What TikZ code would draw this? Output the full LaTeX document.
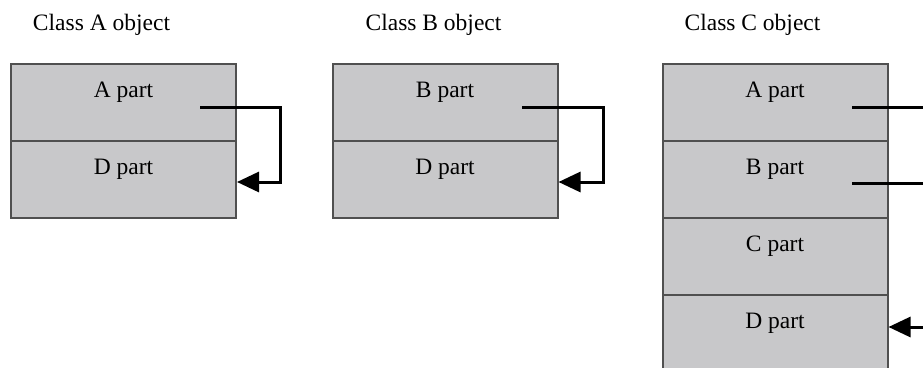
\documentclass[tikz,border=0pt]{standalone}
\usepackage{fontspec}
\setmainfont{Liberation Serif}
\usetikzlibrary{arrows.meta}
\definecolor{partfill}{RGB}{200,200,202}
\definecolor{partline}{RGB}{80,80,80}
\begin{document}
\begin{tikzpicture}[x=1pt,y=-1pt,
  part/.style={draw=partline,line width=2pt,fill=partfill,rectangle,
    minimum width=225pt,minimum height=77pt,inner sep=0pt,
    text height=16pt,text depth=26pt,font=\fontsize{23.5}{25}\selectfont},
  title/.style={font=\fontsize{23.5}{25}\selectfont,inner sep=0pt},
  conn/.style={line width=3pt,-{Triangle[length=22pt,width=20pt]}},
  plain/.style={line width=3pt}]
\clip (0,0) rectangle (923,367);
\useasboundingbox (0,0) rectangle (923,367);
\fill[white] (0,0) rectangle (923,367);
% titles
\node[title] (ta) at (101.5,25) {Class A object};
\node[title] (tb) at (433.5,25) {Class B object};
\node[title] (tc) at (752.5,25) {Class C object};
% Class A object
\node[part] (aA) at (123.5,102.5) {A part};
\node[part] (aD) at (123.5,179.5) {D part};
% Class B object
\node[part] (bB) at (445,102.5) {B part};
\node[part] (bD) at (445,179.5) {D part};
% Class C object
\node[part] (cA) at (775,102.5) {A part};
\node[part] (cB) at (775,179.5) {B part};
\node[part] (cC) at (775,256.5) {C part};
\node[part] (cD) at (775,333.5) {D part};
% connectors
\coordinate (sa) at (200,107);
\coordinate (sb) at (522,107);
\draw[conn] (sa) -- ++(80,0) |- ([yshift=-2.5pt]aD.east);
\draw[conn] (sb) -- ++(81,0) |- ([yshift=-2.5pt]bD.east);
\coordinate (ca) at (852,107);
\coordinate (ca2) at (925,107);
\coordinate (cb) at (852,183);
\coordinate (cb2) at (925,183);
\coordinate (cd) at (925,327);
\draw[plain] (ca) -- (ca2);
\draw[plain] (cb) -- (cb2);
\draw[conn] (cd) -- (cD.east |- cd);
\end{tikzpicture}
\end{document}
